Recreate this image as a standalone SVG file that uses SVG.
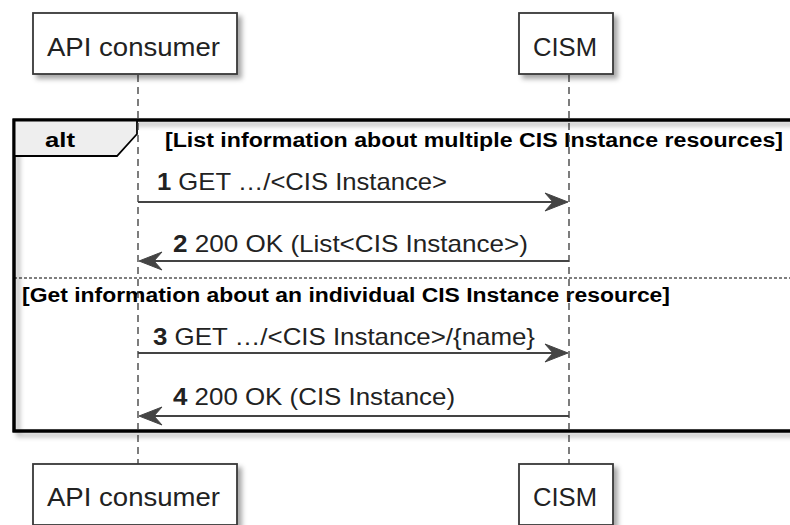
<svg xmlns="http://www.w3.org/2000/svg" width="790" height="525" viewBox="0 0 790 525">
<style>
.part{fill:#fff;stroke:#383838;stroke-width:1.8}
.ptxt{font-family:"Liberation Sans",Arial,sans-serif;font-size:25px;fill:#222}
.life{stroke:#383838;stroke-width:1.3;stroke-dasharray:7,5;fill:none}
.msg{stroke:#444;stroke-width:1.8;fill:none}
.head{fill:#444;stroke:#444;stroke-width:1}
.mtxt{font-family:"Liberation Sans",Arial,sans-serif;font-size:24px;fill:#222}
.btxt{font-family:"Liberation Sans",Arial,sans-serif;font-size:20px;font-weight:bold;fill:#000}
</style>
<defs>
<filter id="sh" x="-10%" y="-10%" width="130%" height="140%">
<feDropShadow dx="4" dy="4" stdDeviation="2.5" flood-color="#000" flood-opacity="0.35"/>
</filter>
</defs>
<g id="frame">
<rect x="14" y="120" width="800" height="311" fill="none" stroke="#000" stroke-width="3" filter="url(#sh)"/>
<path d="M14 120 L137 120 L137 134 L117 156 L14 156 Z" fill="#eeeeee" stroke="#000" stroke-width="1.8"/>
<rect x="14" y="120" width="800" height="311" fill="none" stroke="#000" stroke-width="3"/>
<text class="btxt" x="45" y="147" textLength="30" lengthAdjust="spacingAndGlyphs">alt</text>
<text class="btxt" x="165" y="147" textLength="618" lengthAdjust="spacingAndGlyphs">[List information about multiple CIS Instance resources]</text>
<line x1="14" y1="278" x2="790" y2="278" stroke="#000" stroke-width="1.2" stroke-dasharray="3,2"/>
<text class="btxt" x="22" y="302" textLength="648" lengthAdjust="spacingAndGlyphs">[Get information about an individual CIS Instance resource]</text>
</g>
<g id="lifelines">
<line class="life" x1="138" y1="75" x2="138" y2="464"/>
<line class="life" x1="569" y1="75" x2="569" y2="464"/>
</g>
<g id="api-consumer-top">
<rect class="part" x="33" y="13" width="204" height="61" filter="url(#sh)"/>
<text class="ptxt" x="47" y="56" textLength="173" lengthAdjust="spacingAndGlyphs">API consumer</text>
</g>
<g id="cism-top">
<rect class="part" x="519" y="13" width="94" height="61" filter="url(#sh)"/>
<text class="ptxt" x="533" y="56" textLength="64" lengthAdjust="spacingAndGlyphs">CISM</text>
</g>
<g id="api-consumer-bottom">
<rect class="part" x="33" y="464" width="204" height="61" filter="url(#sh)"/>
<text class="ptxt" x="47" y="506" textLength="173" lengthAdjust="spacingAndGlyphs">API consumer</text>
</g>
<g id="cism-bottom">
<rect class="part" x="519" y="464" width="94" height="61" filter="url(#sh)"/>
<text class="ptxt" x="533" y="506" textLength="64" lengthAdjust="spacingAndGlyphs">CISM</text>
</g>
<g id="connectors">
<line class="msg" x1="138" y1="202" x2="560" y2="202"/>
<path class="head" d="M568 202 L545 193 L553 202 L545 211 Z"/>
<text class="mtxt" x="157" y="190" textLength="290" lengthAdjust="spacingAndGlyphs"><tspan font-weight="bold">1</tspan> GET …/&lt;CIS Instance&gt;</text>
<line class="msg" x1="146" y1="261" x2="569" y2="261"/>
<path class="head" d="M139 261 L162 252 L154 261 L162 270 Z"/>
<text class="mtxt" x="173" y="252" textLength="355" lengthAdjust="spacingAndGlyphs"><tspan font-weight="bold">2</tspan> 200 OK (List&lt;CIS Instance&gt;)</text>
<line class="msg" x1="138" y1="353" x2="560" y2="353"/>
<path class="head" d="M568 353 L545 344 L553 353 L545 362 Z"/>
<text class="mtxt" x="153" y="345" textLength="382" lengthAdjust="spacingAndGlyphs"><tspan font-weight="bold">3</tspan> GET …/&lt;CIS Instance&gt;/{name}</text>
<line class="msg" x1="146" y1="416" x2="569" y2="416"/>
<path class="head" d="M139 416 L162 407 L154 416 L162 425 Z"/>
<text class="mtxt" x="173" y="405" textLength="282" lengthAdjust="spacingAndGlyphs"><tspan font-weight="bold">4</tspan> 200 OK (CIS Instance)</text>
</g>
</svg>
